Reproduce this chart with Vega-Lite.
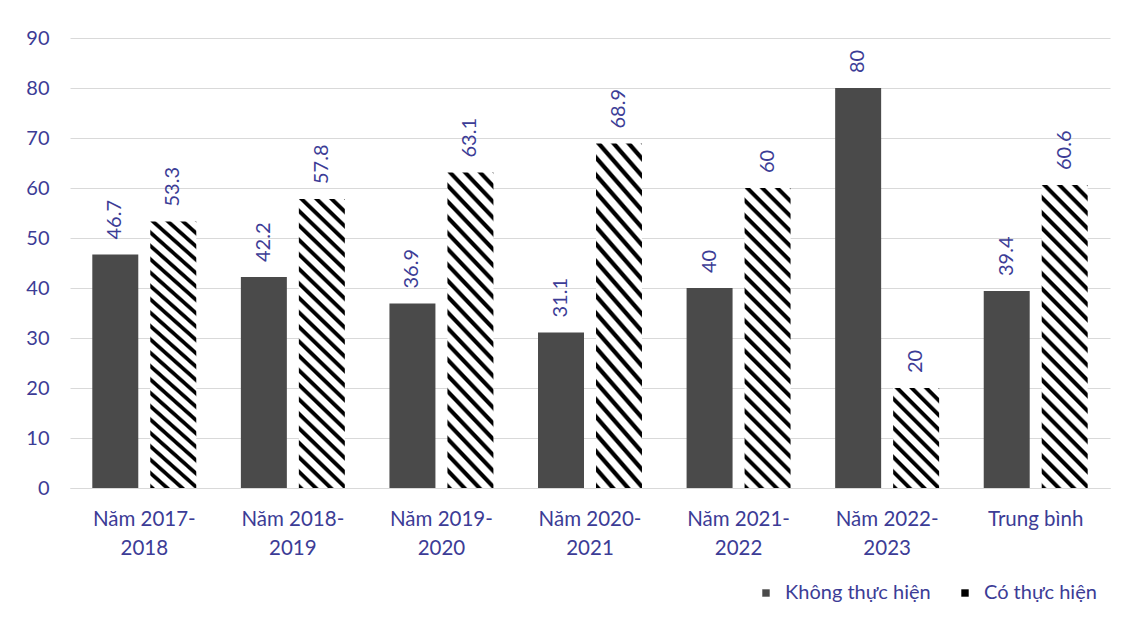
{
  "$schema": "https://vega.github.io/schema/vega-lite/v6.json",
  "width": 1040,
  "height": 450,
  "autosize": {"type": "none"},
  "padding": {"left": 70, "top": 38, "right": 14, "bottom": 142},
  "background": "white",
  "config": {"font": "Lato", "view": {"stroke": null}},
  "data": {
    "values": [
      {"cat": "Năm 2017-2018", "series": "Không thực hiện", "value": 46.7},
      {"cat": "Năm 2017-2018", "series": "Có thực hiện", "value": 53.3},
      {"cat": "Năm 2018-2019", "series": "Không thực hiện", "value": 42.2},
      {"cat": "Năm 2018-2019", "series": "Có thực hiện", "value": 57.8},
      {"cat": "Năm 2019-2020", "series": "Không thực hiện", "value": 36.9},
      {"cat": "Năm 2019-2020", "series": "Có thực hiện", "value": 63.1},
      {"cat": "Năm 2020-2021", "series": "Không thực hiện", "value": 31.1},
      {"cat": "Năm 2020-2021", "series": "Có thực hiện", "value": 68.9},
      {"cat": "Năm 2021-2022", "series": "Không thực hiện", "value": 40},
      {"cat": "Năm 2021-2022", "series": "Có thực hiện", "value": 60},
      {"cat": "Năm 2022-2023", "series": "Không thực hiện", "value": 80},
      {"cat": "Năm 2022-2023", "series": "Có thực hiện", "value": 20},
      {"cat": "Trung bình", "series": "Không thực hiện", "value": 39.4},
      {"cat": "Trung bình", "series": "Có thực hiện", "value": 60.6}
    ]
  },
  "encoding": {
    "x": {
      "field": "cat", "type": "nominal", "sort": null,
      "scale": {"paddingInner": 0, "paddingOuter": 0},
      "axis": {
        "title": null, "domainColor": "#d9d9d9", "domainWidth": 1, "ticks": false, "tickSize": 0,
        "labelPadding": 21, "labelFontSize": 20.5, "labelColor": "#3C3C96", "labelAngle": 0,
        "labelLineHeight": 29, "labelFont": "Lato",
        "labelExpr": "indexof(datum.label,'-') > 0 ? [slice(datum.label,0,indexof(datum.label,'-')+1), slice(datum.label,indexof(datum.label,'-')+1)] : datum.label"
      }
    },
    "xOffset": {
      "field": "series", "type": "nominal", "sort": ["Không thực hiện", "Có thực hiện"],
      "scale": {"paddingInner": 0.207, "paddingOuter": 0.3846}
    },
    "y": {
      "field": "value", "type": "quantitative",
      "scale": {"domain": [0, 90], "nice": false},
      "axis": {
        "title": null, "values": [0, 10, 20, 30, 40, 50, 60, 70, 80, 90], "domain": false, "ticks": false, "tickSize": 0,
        "gridColor": "#d9d9d9", "labelPadding": 21, "labelFontSize": 20, "labelColor": "#3C3C96", "labelFont": "Lato"
      }
    }
  },
  "layer": [
    {
      "mark": {"type": "bar"},
      "encoding": {
        "fill": {
          "field": "series", "type": "nominal",
          "scale": {"domain": ["Không thực hiện", "Có thực hiện"], "range": ["#4a4a4a", "#000000"]},
          "legend": {
            "orient": "none", "legendX": 686, "legendY": 545, "direction": "horizontal", "title": null,
            "symbolType": "square", "symbolSize": 55, "symbolStrokeWidth": 0, "labelFontSize": 20,
            "labelColor": "#3C3C96", "labelFont": "Lato", "columnPadding": 24, "labelOffset": 9, "padding": 0
          },
          "condition": [
            {
              "test": "datum.series === 'Có thực hiện' && datum.value < 40",
              "value": {
                "gradient": "linear", "x1": 0, "y1": 1, "x2": 0.5544, "y2": -0.205,
                "stops": [
                  {"offset": 0, "color": "#000"}, {"offset": 0.025, "color": "#000"}, {"offset": 0.0375, "color": "#fff"}, {"offset": 0.0875, "color": "#fff"},
                  {"offset": 0.1, "color": "#000"}, {"offset": 0.125, "color": "#000"}, {"offset": 0.1375, "color": "#fff"}, {"offset": 0.1875, "color": "#fff"},
                  {"offset": 0.2, "color": "#000"}, {"offset": 0.225, "color": "#000"}, {"offset": 0.2375, "color": "#fff"}, {"offset": 0.2875, "color": "#fff"},
                  {"offset": 0.3, "color": "#000"}, {"offset": 0.325, "color": "#000"}, {"offset": 0.3375, "color": "#fff"}, {"offset": 0.3875, "color": "#fff"},
                  {"offset": 0.4, "color": "#000"}, {"offset": 0.425, "color": "#000"}, {"offset": 0.4375, "color": "#fff"}, {"offset": 0.4875, "color": "#fff"},
                  {"offset": 0.5, "color": "#000"}, {"offset": 0.525, "color": "#000"}, {"offset": 0.5375, "color": "#fff"}, {"offset": 0.5875, "color": "#fff"},
                  {"offset": 0.6, "color": "#000"}, {"offset": 0.625, "color": "#000"}, {"offset": 0.6375, "color": "#fff"}, {"offset": 0.6875, "color": "#fff"},
                  {"offset": 0.7, "color": "#000"}, {"offset": 0.725, "color": "#000"}, {"offset": 0.7375, "color": "#fff"}, {"offset": 0.7875, "color": "#fff"},
                  {"offset": 0.8, "color": "#000"}, {"offset": 0.825, "color": "#000"}, {"offset": 0.8375, "color": "#fff"}, {"offset": 0.8875, "color": "#fff"},
                  {"offset": 0.9, "color": "#000"}, {"offset": 0.925, "color": "#000"}, {"offset": 0.9375, "color": "#fff"}, {"offset": 0.9875, "color": "#fff"},
                  {"offset": 1, "color": "#000"}
                ]
              }
            },
            {
              "test": "datum.series === 'Có thực hiện'",
              "value": {
                "gradient": "linear", "x1": 0, "y1": 1, "x2": 0.1728, "y2": -0.1268,
                "stops": [
                  {"offset": 0, "color": "#000"}, {"offset": 0.0109, "color": "#000"}, {"offset": 0.0163, "color": "#fff"}, {"offset": 0.038, "color": "#fff"},
                  {"offset": 0.0435, "color": "#000"}, {"offset": 0.0543, "color": "#000"}, {"offset": 0.0598, "color": "#fff"}, {"offset": 0.0815, "color": "#fff"},
                  {"offset": 0.087, "color": "#000"}, {"offset": 0.0978, "color": "#000"}, {"offset": 0.1033, "color": "#fff"}, {"offset": 0.125, "color": "#fff"},
                  {"offset": 0.1304, "color": "#000"}, {"offset": 0.1413, "color": "#000"}, {"offset": 0.1467, "color": "#fff"}, {"offset": 0.1685, "color": "#fff"},
                  {"offset": 0.1739, "color": "#000"}, {"offset": 0.1848, "color": "#000"}, {"offset": 0.1902, "color": "#fff"}, {"offset": 0.212, "color": "#fff"},
                  {"offset": 0.2174, "color": "#000"}, {"offset": 0.2283, "color": "#000"}, {"offset": 0.2337, "color": "#fff"}, {"offset": 0.2554, "color": "#fff"},
                  {"offset": 0.2609, "color": "#000"}, {"offset": 0.2717, "color": "#000"}, {"offset": 0.2772, "color": "#fff"}, {"offset": 0.2989, "color": "#fff"},
                  {"offset": 0.3043, "color": "#000"}, {"offset": 0.3152, "color": "#000"}, {"offset": 0.3207, "color": "#fff"}, {"offset": 0.3424, "color": "#fff"},
                  {"offset": 0.3478, "color": "#000"}, {"offset": 0.3587, "color": "#000"}, {"offset": 0.3641, "color": "#fff"}, {"offset": 0.3859, "color": "#fff"},
                  {"offset": 0.3913, "color": "#000"}, {"offset": 0.4022, "color": "#000"}, {"offset": 0.4076, "color": "#fff"}, {"offset": 0.4293, "color": "#fff"},
                  {"offset": 0.4348, "color": "#000"}, {"offset": 0.4457, "color": "#000"}, {"offset": 0.4511, "color": "#fff"}, {"offset": 0.4728, "color": "#fff"},
                  {"offset": 0.4783, "color": "#000"}, {"offset": 0.4891, "color": "#000"}, {"offset": 0.4946, "color": "#fff"}, {"offset": 0.5163, "color": "#fff"},
                  {"offset": 0.5217, "color": "#000"}, {"offset": 0.5326, "color": "#000"}, {"offset": 0.538, "color": "#fff"}, {"offset": 0.5598, "color": "#fff"},
                  {"offset": 0.5652, "color": "#000"}, {"offset": 0.5761, "color": "#000"}, {"offset": 0.5815, "color": "#fff"}, {"offset": 0.6033, "color": "#fff"},
                  {"offset": 0.6087, "color": "#000"}, {"offset": 0.6196, "color": "#000"}, {"offset": 0.625, "color": "#fff"}, {"offset": 0.6467, "color": "#fff"},
                  {"offset": 0.6522, "color": "#000"}, {"offset": 0.663, "color": "#000"}, {"offset": 0.6685, "color": "#fff"}, {"offset": 0.6902, "color": "#fff"},
                  {"offset": 0.6957, "color": "#000"}, {"offset": 0.7065, "color": "#000"}, {"offset": 0.712, "color": "#fff"}, {"offset": 0.7337, "color": "#fff"},
                  {"offset": 0.7391, "color": "#000"}, {"offset": 0.75, "color": "#000"}, {"offset": 0.7554, "color": "#fff"}, {"offset": 0.7772, "color": "#fff"},
                  {"offset": 0.7826, "color": "#000"}, {"offset": 0.7935, "color": "#000"}, {"offset": 0.7989, "color": "#fff"}, {"offset": 0.8207, "color": "#fff"},
                  {"offset": 0.8261, "color": "#000"}, {"offset": 0.837, "color": "#000"}, {"offset": 0.8424, "color": "#fff"}, {"offset": 0.8641, "color": "#fff"},
                  {"offset": 0.8696, "color": "#000"}, {"offset": 0.8804, "color": "#000"}, {"offset": 0.8859, "color": "#fff"}, {"offset": 0.9076, "color": "#fff"},
                  {"offset": 0.913, "color": "#000"}, {"offset": 0.9239, "color": "#000"}, {"offset": 0.9293, "color": "#fff"}, {"offset": 0.9511, "color": "#fff"},
                  {"offset": 0.9565, "color": "#000"}, {"offset": 0.9674, "color": "#000"}, {"offset": 0.9728, "color": "#fff"}, {"offset": 0.9946, "color": "#fff"},
                  {"offset": 1, "color": "#000"}
                ]
              }
            }
          ]
        }
      }
    },
    {
      "mark": {"type": "text", "angle": 270, "align": "left", "baseline": "middle", "dx": 15, "fontSize": 20, "color": "#3C3C96", "font": "Lato"},
      "encoding": {
        "text": {"field": "value", "type": "quantitative", "format": ".1~f"}
      }
    }
  ]
}
